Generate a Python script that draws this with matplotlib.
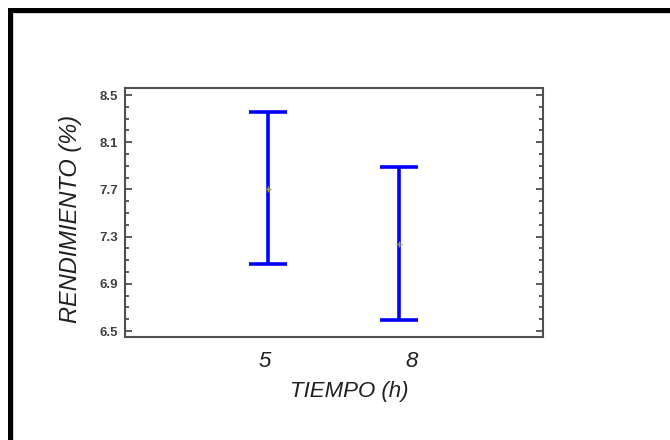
import matplotlib
matplotlib.use("Agg")
import matplotlib.pyplot as plt
from matplotlib.patches import Rectangle
from matplotlib.ticker import MultipleLocator

# Data (means with interval limits)
categories = ["5", "8"]
means = [7.70, 7.24]
upper = [8.355, 7.89]
lower = [7.07, 6.595]

plt.rcParams["font.family"] = ["Liberation Sans", "DejaVu Sans"]

W, H = 670, 440
fig = plt.figure(figsize=(W / 100, H / 100), dpi=100)

# Outer frame: thick black line on top and left, thin grey inner edge
fig.patches.append(Rectangle((8 / W, 0), 5 / W, 1 - 8 / H, transform=fig.transFigure,
                             facecolor="black", edgecolor="none"))
fig.patches.append(Rectangle((8 / W, 1 - 13 / H), 1, 5 / H, transform=fig.transFigure,
                             facecolor="black", edgecolor="none"))
fig.patches.append(Rectangle((13 / W, 1 - 14 / H), 1, 1 / H, transform=fig.transFigure,
                             facecolor="#d8d8d8", edgecolor="none"))
fig.patches.append(Rectangle((13 / W, 0), 1 / W, 1 - 13 / H, transform=fig.transFigure,
                             facecolor="#d8d8d8", edgecolor="none"))

# Axes box
left, right, top, bottom = 125, 543, 88, 337
ax = fig.add_axes([left / W, 1 - bottom / H, (right - left) / W, (bottom - top) / H])

x = [1, 2]
yerr_low = [m - l for m, l in zip(means, lower)]
yerr_high = [u - m for m, u in zip(means, upper)]
ax.errorbar(x, means, yerr=[yerr_low, yerr_high], fmt="none", ecolor="#0000ff",
            elinewidth=2.6, capsize=14, capthick=2.6)
ax.plot(x, means, linestyle="None", marker="+", markersize=4, color="#9a9a50", mew=1)

ax.set_xlim(-0.09, 3.1)
ax.set_ylim(6.45, 8.56)
# category labels sit slightly off the interval centres, as in the original
ax.set_xticks([0.977, 2.1])
ax.set_xticklabels(categories, fontsize=16, style="italic", color="#202020")
ax.tick_params(axis="x", length=0, pad=10)

ax.yaxis.set_minor_locator(MultipleLocator(0.1))
ax.set_yticks([6.5, 6.9, 7.3, 7.7, 8.1, 8.5])
ax.set_yticklabels(["6.5", "6.9", "7.3", "7.7", "8.1", "8.5"])
ax.tick_params(axis="y", which="both", direction="in", left=True, right=True,
               color="#404040", width=1.2)
ax.tick_params(axis="y", which="major", length=5, labelsize=9.5, pad=5,
               labelcolor="#404040")
ax.tick_params(axis="y", which="minor", length=3)
for lab in ax.get_yticklabels():
    lab.set_fontweight("bold")

for s in ax.spines.values():
    s.set_color("#505050")
    s.set_linewidth(1.5)

fig.text(71 / W, 1 - 219 / H, "RENDIMIENTO (%)", fontsize=17, style="italic",
         color="#202020", rotation=90, ha="center", va="center")
fig.text(349 / W, 1 - 391 / H, "TIEMPO (h)", fontsize=16, style="italic",
         color="#202020", ha="center", va="center")

fig.savefig("out.png", dpi=100)
